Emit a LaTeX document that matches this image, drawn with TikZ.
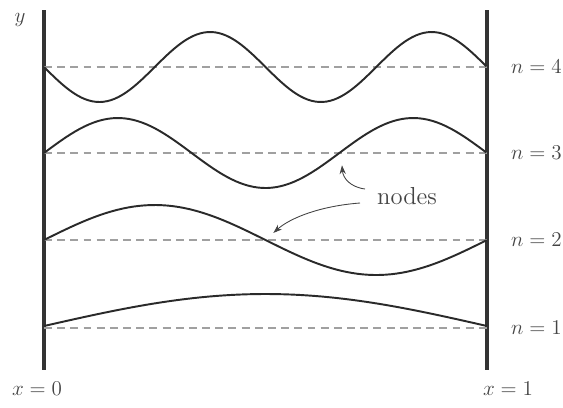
\documentclass[tikz,border=0pt]{standalone}
\usepackage{tikz}
\usetikzlibrary{arrows.meta}
\definecolor{ink}{HTML}{2A2A2A}
\definecolor{wall}{HTML}{333333}
\definecolor{rest}{HTML}{A0A0A0}
\definecolor{mute}{HTML}{444444}
\tikzset{
  wave/.style={draw=ink,line width=1.1pt},
  restline/.style={draw=rest,line width=.7pt,dash pattern=on 4.5pt off 3pt},
  wallline/.style={draw=wall,line width=2.3pt},
  modelabel/.style={font=\fontsize{13}{15}\selectfont,text=mute},
  pointer/.style={draw=mute,line width=.5pt,-{Stealth[length=5pt,width=3.5pt]}}
}
\begin{document}
\begin{tikzpicture}[x=0.02cm,y=-0.02cm]
\useasboundingbox (0,0) rectangle (563,407);
% walls of the string, at x = 0 and x = 1
\draw[wallline] (44,10) -- (44,370);
\draw[wallline] (487,10) -- (487,370);
% rest positions, one per mode
\foreach \b/\n in {67/4,153/3,240/2,328/1}{
  \draw[restline] (44,\b) -- (487,\b);
  \node[modelabel,anchor=west] (n\n) at (505,\b) {$n=\n$};
}
% standing waves
\draw[wave] plot[domain=0:1,samples=60] ({44+443*\x},{326-32*sin(180*\x)});
\draw[wave] plot[domain=0:1,samples=80] ({44+443*\x},{240-35*sin(360*\x)});
\draw[wave] plot[domain=0:1,samples=100] ({44+443*\x},{153-35*sin(540*\x)});
\draw[wave] plot[domain=0:1,samples=120] ({44+443*\x},{67+35*sin(720*\x)});
% axis labels
\node[modelabel] (ylab) at (20,20) {$y$};
\node[modelabel] (x0) at (37,389) {$x=0$};
\node[modelabel] (x1) at (508,389) {$x=1$};
% the two marked nodes
\coordinate (p3) at (341,153);
\coordinate (p2) at (265.5,240);
\node[modelabel,font=\fontsize{14}{16}\selectfont] (lbl) at (407,196) {nodes};
\coordinate (t3) at (365,189);
\coordinate (t2) at (360,203);
\draw[pointer,shorten >=7pt] (t3) .. controls (350,187) and (343,178) .. (p3);
\draw[pointer,shorten >=6pt] (t2) .. controls (320,206) and (290,218) .. (p2);
\end{tikzpicture}
\end{document}
